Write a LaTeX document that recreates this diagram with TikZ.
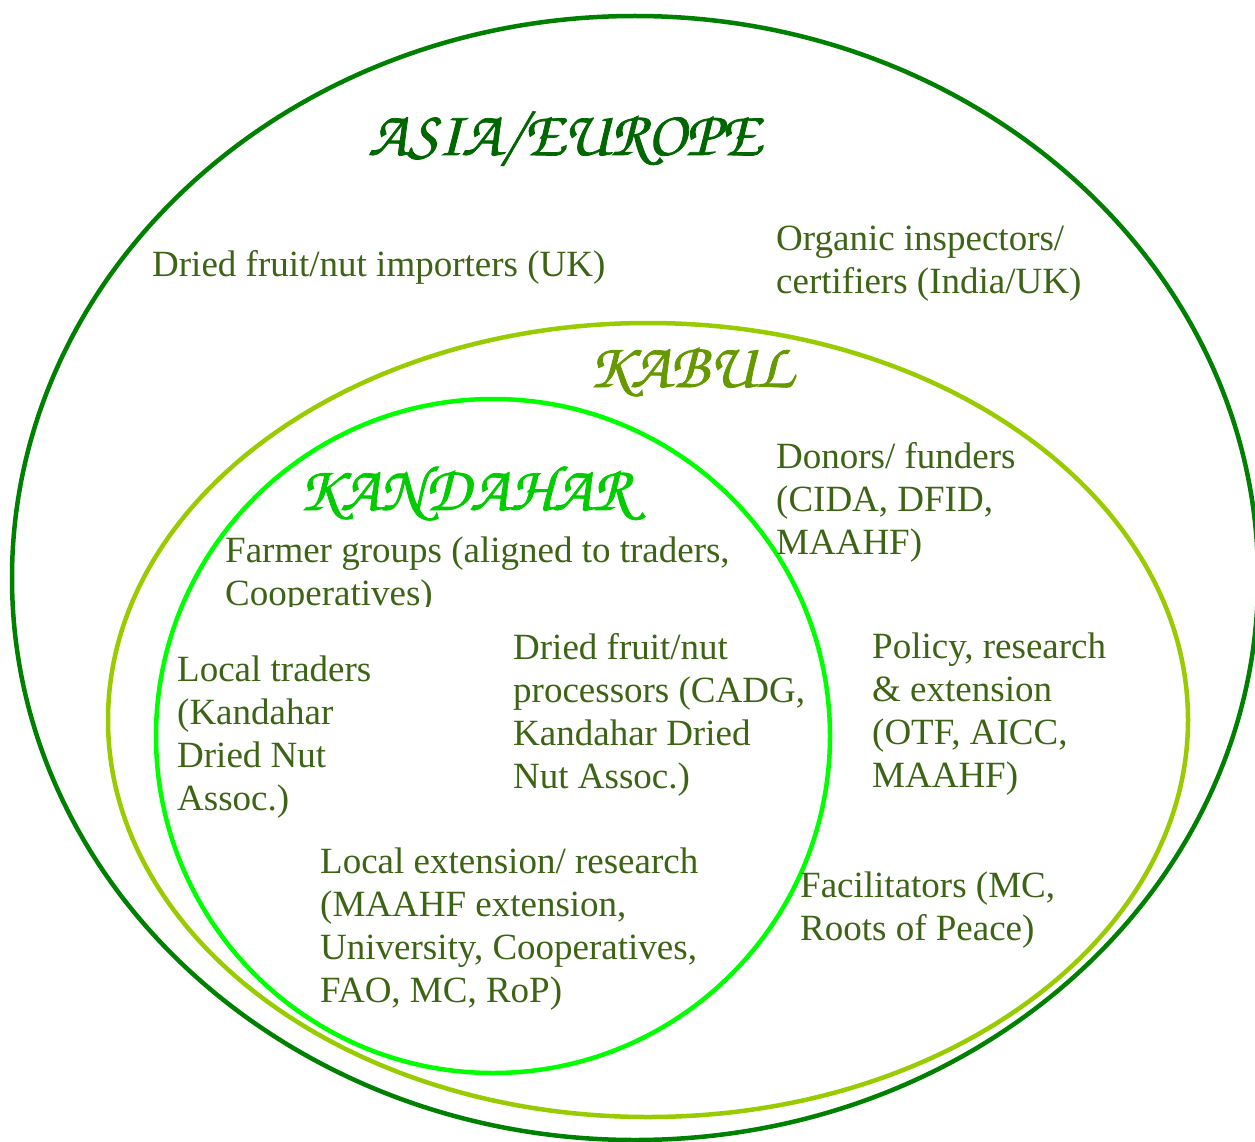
\documentclass[tikz,border=0pt]{standalone}
\usepackage{fontspec}
\setmainfont{Liberation Serif}
\newfontfamily\chancery[FakeBold=1.2]{texgyrechorus-mediumitalic.otf}
\definecolor{asiaring}{HTML}{008000}
\definecolor{kabulring}{HTML}{99CC00}
\definecolor{kandring}{HTML}{00FF00}
\definecolor{asiatitle}{HTML}{006600}
\definecolor{kabultitle}{HTML}{669900}
\definecolor{kandtitle}{HTML}{00CC00}
\definecolor{bodytext}{HTML}{3C6414}
\tikzset{
  ring/.style={line width=4.5pt},
  regiontitle/.style={anchor=base west, inner sep=0pt, font=\chancery\fontsize{64}{70}\selectfont},
  actor/.style={anchor=north west, inner sep=0pt, align=left, text=bodytext,
    font=\fontsize{37}{43}\selectfont}
}
\begin{document}
\begin{tikzpicture}[x=1pt,y=-1pt]
  \useasboundingbox (0,0) rectangle (1255,1142);
  \clip (0,0) rectangle (1255,1142);

  % nested regions
  \draw[ring, asiaring]  (635,578) ellipse [x radius=623, y radius=562];
  \draw[ring, kabulring] (648,720) ellipse [x radius=540, y radius=397];
  \draw[ring, kandring]  (493,736) circle [radius=337];

  % region titles
  \node[regiontitle, text=asiatitle]  (asia)  at (368,155) {ASIA/EUROPE};
  \node[regiontitle, text=kabultitle] (kabul) at (588,387) {KABUL};
  \node[regiontitle, text=kandtitle]  (kand)  at (298,510) {KANDAHAR};

  % Asia/Europe actors
  \node[actor] (importers) at (152,250) {Dried fruit/nut importers (UK)};
  \node[actor] (organic)   at (776,226) {Organic inspectors/\\certifiers (India/UK)};

  % Kabul actors
  \node[actor] (donors)    at (776,442) {Donors/ funders\\(CIDA, DFID,\\MAAHF)};
  \node[actor] (policy)    at (872,633) {Policy, research\\\& extension\\(OTF, AICC,\\MAAHF)};
  \node[actor] (facil)     at (800,872) {Facilitators (MC,\\Roots of Peace)};

  % Kandahar actors
  \begin{scope}
    \clip (0,0) rectangle (1255,606);
    \node[actor] (farmers) at (225,537) {Farmer groups (aligned to traders,\\Cooperatives)};
  \end{scope}
  \node[actor] (traders)    at (177,656) {Local traders\\(Kandahar\\Dried Nut\\Assoc.)};
  \node[actor] (processors) at (513,633) {Dried fruit/nut\\processors (CADG,\\Kandahar Dried\\Nut Assoc.)};
  \node[actor] (localext)   at (320,848) {Local extension/ research\\(MAAHF extension,\\University, Cooperatives,\\FAO, MC, RoP)};
\end{tikzpicture}
\end{document}
